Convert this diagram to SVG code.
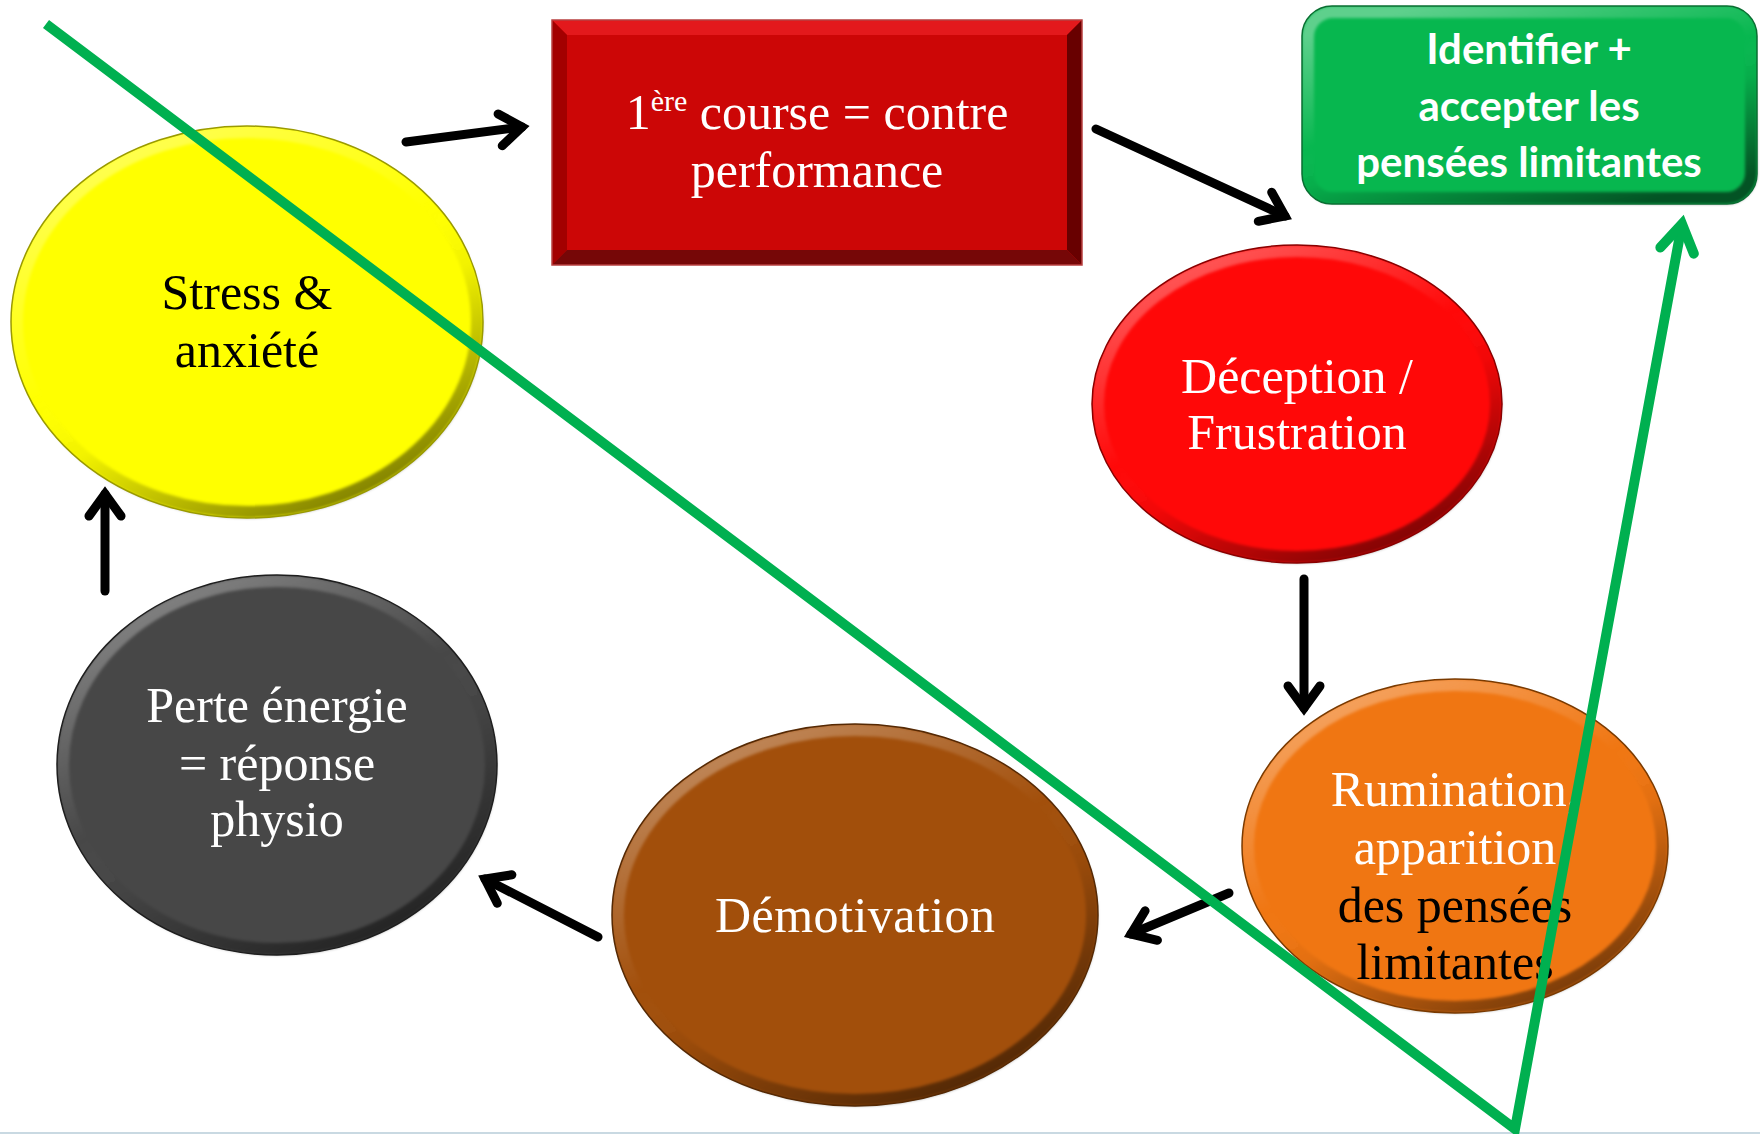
<svg xmlns="http://www.w3.org/2000/svg" width="1760" height="1134" viewBox="0 0 1760 1134">
  <defs>
    <!-- bevel rim: light at top-left, dark at bottom-right -->
    <linearGradient id="rim" x1="0.2" y1="0" x2="0.8" y2="1">
      <stop offset="0" stop-color="#ffffff" stop-opacity="0.35"/>
      <stop offset="0.45" stop-color="#ffffff" stop-opacity="0"/>
      <stop offset="0.6" stop-color="#000000" stop-opacity="0.05"/>
      <stop offset="1" stop-color="#000000" stop-opacity="0.55"/>
    </linearGradient>
    <filter id="soft" x="-5%" y="-5%" width="110%" height="110%">
      <feGaussianBlur stdDeviation="1.6"/>
    </filter>
    <marker id="head" markerUnits="userSpaceOnUse" markerWidth="60" markerHeight="60" refX="30" refY="30" orient="auto" viewBox="0 0 60 60">
      <path d="M 8 14 L 30 30 L 8 46" fill="none" stroke="#000" stroke-width="9" stroke-linecap="round" stroke-linejoin="miter"/>
    </marker>
    <marker id="greenhead" markerUnits="userSpaceOnUse" markerWidth="70" markerHeight="70" refX="35" refY="35" orient="auto" viewBox="0 0 70 70">
      <path d="M 8 18 L 35 35 L 8 52" fill="none" stroke="#00b050" stroke-width="10" stroke-linecap="round" stroke-linejoin="miter"/>
    </marker>
  </defs>
  <style>
    .serif { font-family: "Liberation Serif", "Times New Roman", serif; font-size: 50px; text-anchor: middle; }
    .sans { font-family: Lato, "Open Sans", "Liberation Sans", sans-serif; font-weight: bold; font-size: 42px; text-anchor: middle; fill: #ffffff; }
    .white { fill: #ffffff; }
    .black { fill: #000000; }
    .rim { fill: none; stroke: url(#rim); stroke-width: 12; filter: url(#soft); }
    .arrow { fill: none; stroke: #000; stroke-width: 9; stroke-linecap: round; marker-end: url(#head); }
    .green { fill: none; stroke: #00b050; stroke-width: 10; stroke-linejoin: miter; }
  </style>

  <rect width="1760" height="1134" fill="#ffffff"/>
  <line x1="0" y1="1133" x2="1760" y2="1133" stroke="#c9d9e2" stroke-width="2"/>

  <!-- 1ère course = contre performance -->
  <g id="node-course">
    <rect x="552" y="20" width="530" height="245" fill="#cc0606"/>
    <polygon points="552,20 1082,20 1067,35 567,35" fill="#e3191c"/>
    <polygon points="552,20 567,35 567,250 552,265" fill="#a30000"/>
    <polygon points="1082,20 1082,265 1067,250 1067,35" fill="#680000"/>
    <polygon points="552,265 1082,265 1067,250 567,250" fill="#760707"/>
    <rect x="552" y="20" width="530" height="245" fill="none" stroke="#b84040" stroke-width="1.5"/>
    <text class="serif white" x="817" y="129">1<tspan font-size="30" dy="-18">ère</tspan><tspan dy="18"> course = contre</tspan></text>
    <text class="serif white" x="817" y="187">performance</text>
  </g>

  <!-- Identifier + accepter les pensées limitantes -->
  <g id="node-identifier">
    <rect x="1302" y="6" width="455" height="198" rx="30" fill="#07b74f"/>
    <rect x="1308" y="12" width="443" height="186" rx="25" class="rim"/>
    <rect x="1302" y="6" width="455" height="198" rx="30" fill="none" stroke="#0a6e32" stroke-width="1.5"/>
    <text class="sans" x="1529" y="64">Identifier +</text>
    <text class="sans" x="1529" y="121">accepter les</text>
    <text class="sans" x="1529" y="177">pensées limitantes</text>
  </g>

  <!-- Stress & anxiété -->
  <g id="node-stress">
    <ellipse cx="247" cy="322" rx="236" ry="196" fill="#ffff00"/>
    <ellipse cx="247" cy="322" rx="230" ry="190" class="rim"/>
    <ellipse cx="247" cy="322" rx="236" ry="196" fill="none" stroke="#9a9a00" stroke-width="1.5"/>
    <text class="serif black" x="247" y="309">Stress &amp;</text>
    <text class="serif black" x="247" y="367">anxiété</text>
  </g>

  <!-- Déception / Frustration -->
  <g id="node-deception">
    <ellipse cx="1297" cy="404" rx="205" ry="159" fill="#ff0808"/>
    <ellipse cx="1297" cy="404" rx="199" ry="153" class="rim"/>
    <ellipse cx="1297" cy="404" rx="205" ry="159" fill="none" stroke="#8a0000" stroke-width="1.5"/>
    <text class="serif white" x="1297" y="393">Déception /</text>
    <text class="serif white" x="1297" y="449">Frustration</text>
  </g>

  <!-- Rumination, apparition des pensées limitantes -->
  <g id="node-rumination">
    <ellipse cx="1455" cy="846" rx="213" ry="167" fill="#f07612"/>
    <ellipse cx="1455" cy="846" rx="207" ry="161" class="rim"/>
    <ellipse cx="1455" cy="846" rx="213" ry="167" fill="none" stroke="#7a3a00" stroke-width="1.5"/>
    <text class="serif white" x="1455" y="806">Rumination,</text>
    <text class="serif white" x="1455" y="864">apparition</text>
    <text class="serif black" x="1455" y="922">des pensées</text>
    <text class="serif black" x="1455" y="979">limitantes</text>
  </g>

  <!-- Démotivation -->
  <g id="node-demotivation">
    <ellipse cx="855" cy="915" rx="243" ry="191" fill="#a24f0b"/>
    <ellipse cx="855" cy="915" rx="237" ry="185" class="rim"/>
    <ellipse cx="855" cy="915" rx="243" ry="191" fill="none" stroke="#552904" stroke-width="1.5"/>
    <text class="serif white" x="855" y="932" textLength="280" lengthAdjust="spacing">Démotivation</text>
  </g>

  <!-- Perte énergie = réponse physio -->
  <g id="node-perte">
    <ellipse cx="277" cy="765" rx="220" ry="190" fill="#474747"/>
    <ellipse cx="277" cy="765" rx="214" ry="184" class="rim"/>
    <ellipse cx="277" cy="765" rx="220" ry="190" fill="none" stroke="#1e1e1e" stroke-width="1.5"/>
    <text class="serif white" x="277" y="722">Perte énergie</text>
    <text class="serif white" x="277" y="780">= réponse</text>
    <text class="serif white" x="277" y="836">physio</text>
  </g>

  <!-- cycle arrows and the green exit path -->
  <g id="connectors">
    <line class="arrow" x1="406" y1="142" x2="522" y2="127"/>
    <line class="arrow" x1="1096" y1="129" x2="1285" y2="216"/>
    <line class="arrow" x1="1304" y1="579" x2="1304" y2="708"/>
    <line class="arrow" x1="1229" y1="893" x2="1131" y2="934"/>
    <line class="arrow" x1="598" y1="937" x2="485" y2="879"/>
    <line class="arrow" x1="105" y1="591" x2="105" y2="494"/>
    <polyline class="green" points="46,24 1515,1129 1682,224" marker-end="url(#greenhead)"/>
  </g>
</svg>
